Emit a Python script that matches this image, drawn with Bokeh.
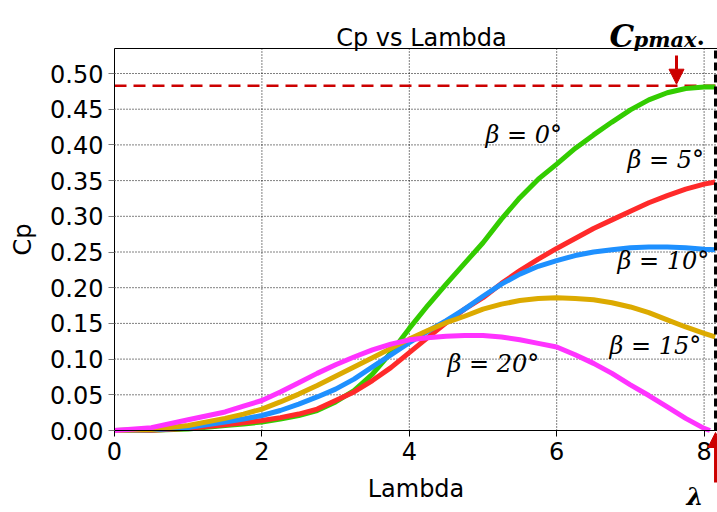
from bokeh.plotting import figure
from bokeh.models import Range1d, FixedTicker, Label, Arrow, NormalHead, NumeralTickFormatter
from bokeh.embed import file_html
from bokeh.resources import INLINE

# ---------------- data ----------------
lam = [0, 0.5, 1, 1.5, 1.75, 2, 2.25, 2.5, 2.75, 3, 3.25, 3.5, 3.75, 4, 4.25, 4.5, 4.75,
       5, 5.25, 5.5, 5.75, 6, 6.25, 6.5, 6.75, 7, 7.25, 7.5, 7.75, 8, 8.15]
cp_b0 = [0, 0.0003, 0.002, 0.007, 0.009, 0.012, 0.016, 0.021, 0.028, 0.040, 0.056, 0.079,
         0.109, 0.143, 0.175, 0.205, 0.234, 0.263, 0.296, 0.326, 0.352, 0.373, 0.395, 0.414,
         0.432, 0.449, 0.463, 0.473, 0.479, 0.481, 0.481]
cp_b5 = [0, 0.0005, 0.003, 0.008, 0.011, 0.014, 0.018, 0.023, 0.030, 0.042, 0.054, 0.070,
         0.088, 0.109, 0.130, 0.151, 0.170, 0.186, 0.206, 0.224, 0.240, 0.255, 0.269, 0.283,
         0.295, 0.307, 0.319, 0.329, 0.338, 0.345, 0.348]
cp_b10 = [0, 0.001, 0.004, 0.012, 0.016, 0.021, 0.028, 0.037, 0.047, 0.058, 0.072, 0.089,
          0.106, 0.123, 0.139, 0.154, 0.170, 0.188, 0.205, 0.219, 0.230, 0.238, 0.245, 0.250,
          0.253, 0.256, 0.257, 0.257, 0.256, 0.254, 0.253]
cp_b15 = [0, 0.0015, 0.007, 0.017, 0.023, 0.030, 0.040, 0.051, 0.063, 0.076, 0.089, 0.102,
          0.115, 0.128, 0.140, 0.151, 0.160, 0.170, 0.177, 0.182, 0.185, 0.186, 0.185, 0.183,
          0.179, 0.173, 0.165, 0.155, 0.145, 0.136, 0.131]
lam_b20 = [0, 0.5, 1, 1.5, 1.75, 2, 2.25, 2.5, 2.75, 3, 3.25, 3.5, 3.75, 4, 4.25, 4.5, 4.75,
           5, 5.25, 5.5, 5.75, 6, 6.25, 6.5, 6.75, 7, 7.25, 7.5, 7.75, 8, 8.08]
cp_b20 = [0, 0.004, 0.015, 0.026, 0.034, 0.042, 0.054, 0.067, 0.080, 0.092, 0.103, 0.113,
          0.121, 0.127, 0.130, 0.132, 0.133, 0.133, 0.131, 0.127, 0.122, 0.117, 0.106, 0.094,
          0.080, 0.064, 0.049, 0.033, 0.017, 0.003, 0.0]

series_labels = ["β = 0°", "β = 5°", "β = 10°", "β = 15°", "β = 20°"]
series_colors = ["#33cc00", "#ff2a2a", "#1e90ff", "#dcaa00", "#ff33ff"]
x_ticks = [0, 2, 4, 6, 8]
y_ticks = [0, 0.05, 0.10, 0.15, 0.20, 0.25, 0.30, 0.35, 0.40, 0.45, 0.50]
cp_max = 0.483
lam_opt = 8.155

# ---------------- layout (frame = whole canvas, axes pinned at 0) ----------------
W, H = 717, 512
OX, OY = 114, 430          # pixel position of (0, 0)
SX, SY = 73.7, 714.0       # pixels per unit
X_END = (W - OX) / SX
Y_TOP = (OY - 48) / SY


def X(px):
    return (px - OX) / SX


def Y(py):
    return (OY - py) / SY


p = figure(width=W, height=H, x_range=Range1d(-OX / SX, X_END), y_range=Range1d(-(H - OY) / SY, OY / SY),
           output_backend="svg", toolbar_location=None,
           min_border_left=0, min_border_right=0, min_border_top=0, min_border_bottom=0)
p.title.visible = False
p.outline_line_color = None
p.background_fill_color = "white"
p.border_fill_color = "white"
p.xgrid.visible = False
p.ygrid.visible = False

font = "DejaVu Sans"
for ax in (p.xaxis, p.yaxis):
    ax.fixed_location = 0
    ax.axis_line_color = "black"
    ax.axis_line_width = 1
    ax.major_tick_out = 6
    ax.major_tick_in = 0
    ax.minor_tick_line_color = None
    ax.major_label_text_font = font
    ax.major_label_text_font_size = "24px"
    ax.major_label_text_color = "black"
    ax.axis_label_text_font = font
    ax.axis_label_text_font_size = "24px"
    ax.axis_label_text_font_style = "normal"
    ax.axis_label_text_color = "black"

p.xaxis.bounds = (0, X_END)
p.yaxis.bounds = (0, Y_TOP)
p.xaxis.ticker = FixedTicker(ticks=x_ticks)
p.yaxis.ticker = FixedTicker(ticks=y_ticks)
p.yaxis.formatter = NumeralTickFormatter(format="0.00")
p.xaxis.axis_label = "Lambda"
p.yaxis.axis_label = "Cp"
p.yaxis.major_tick_line_color = "#777777"
p.xaxis.major_tick_line_color = "black"
p.xaxis.axis_label_standoff = 12
p.yaxis.axis_label_standoff = 10

# dotted grid, limited to the box
grid_style = dict(line_color="black", line_width=1, line_dash="1 2")
p.segment(x0=x_ticks[1:], y0=[0] * (len(x_ticks) - 1), x1=x_ticks[1:], y1=[Y_TOP] * (len(x_ticks) - 1), **grid_style)
p.segment(x0=[0] * (len(y_ticks) - 1), y0=y_ticks[1:], x1=[X_END] * (len(y_ticks) - 1), y1=y_ticks[1:], **grid_style)

# top border line of the box
p.segment(x0=[0], y0=[Y_TOP], x1=[X_END], y1=[Y_TOP], line_color="black", line_width=1)

# red dashed Cp max line (under curves)
p.segment(x0=[0], y0=[cp_max], x1=[lam_opt], y1=[cp_max], line_color="#cc0000",
          line_width=2.5, line_dash="12 7")

for xs, ys, c in zip([lam, lam, lam, lam, lam_b20], [cp_b0, cp_b5, cp_b10, cp_b15, cp_b20], series_colors):
    p.line(xs, ys, line_color=c, line_width=5)

# black dashed vertical line at lambda opt
p.segment(x0=[lam_opt], y0=[0], x1=[lam_opt], y1=[Y_TOP], line_color="black",
          line_width=3, line_dash="8 4")

# beta labels
label_pos = [(485, 134), (627, 159), (617, 260), (609, 345), (447, 363)]
for txt, (px, py) in zip(series_labels, label_pos):
    p.add_layout(Label(x=X(px), y=Y(py), text=txt, text_font="DejaVu Serif",
                       text_font_style="italic", text_font_size="24px",
                       text_baseline="middle", text_align="left", text_color="black"))

# title
p.add_layout(Label(x=X(421), y=Y(37), text="Cp vs Lambda", text_font=font,
                   text_font_size="24px", text_align="center",
                   text_baseline="alphabetic", text_color="black"))

# C_pmax label
p.add_layout(Label(x=X(609), y=Y(35), text="C", text_font="DejaVu Serif",
                   text_font_style="bold italic", text_font_size="31px",
                   text_baseline="alphabetic", text_color="black"))
p.add_layout(Label(x=X(633), y=Y(39), text="pmax", text_font="DejaVu Serif",
                   text_font_style="bold italic", text_font_size="21px",
                   text_baseline="alphabetic", text_color="black"))
p.add_layout(Label(x=X(696), y=Y(35), text=".", text_font="DejaVu Serif",
                   text_font_style="bold", text_font_size="24px",
                   text_baseline="alphabetic", text_color="black"))

# lambda label at bottom right
p.add_layout(Label(x=X(686), y=Y(496), text="λ", text_font="DejaVu Serif",
                   text_font_style="bold italic", text_font_size="24px",
                   text_baseline="alphabetic", text_color="black"))

# red arrows
red = "#cc0000"
p.add_layout(Arrow(end=NormalHead(size=15, fill_color=red, line_color=red),
                   x_start=X(676), y_start=Y(55), x_end=X(676), y_end=cp_max + 0.002,
                   line_color=red, line_width=3))
p.add_layout(Arrow(end=NormalHead(size=15, fill_color=red, line_color=red),
                   x_start=lam_opt, y_start=Y(482), x_end=lam_opt, y_end=Y(432),
                   line_color=red, line_width=3))

open("out.html", "w").write(file_html(p, INLINE))
